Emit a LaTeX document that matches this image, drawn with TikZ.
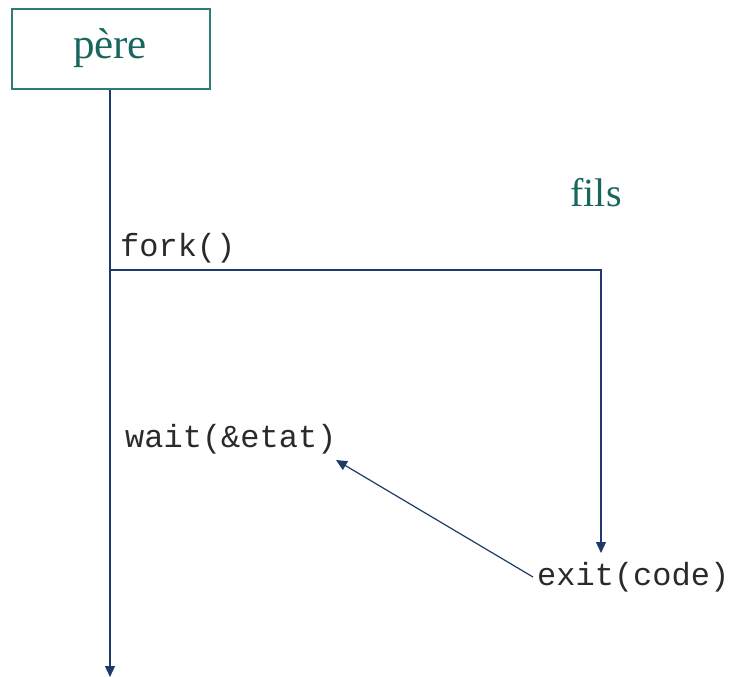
\documentclass[tikz,border=0pt]{standalone}
\usepackage{fontspec}
\setmainfont{Liberation Serif}
\newfontfamily\codefont{Liberation Mono}
\usetikzlibrary{arrows.meta}
\definecolor{navy}{HTML}{1F3A68}
\definecolor{tealtxt}{HTML}{17675F}
\definecolor{tealbox}{HTML}{2E7C76}
\definecolor{codegray}{HTML}{2A2A2A}
\tikzset{
  flow/.style={draw=navy, line width=1.2pt},
  tip/.style={-{Triangle[length=11pt,width=10pt]}},
  proc/.style={text=tealtxt},
  call/.style={font=\codefont\fontsize{32}{34}\selectfont, text=codegray, inner sep=0pt, anchor=base west},
}
\begin{document}
\begin{tikzpicture}[x=1pt, y=-1pt]
  \useasboundingbox (0,0) rectangle (729,677);
  % parent process box
  \node[draw=tealbox, line width=1.3pt, minimum width=198pt, minimum height=80pt, inner sep=0pt] (pere) at (111,49) {};
  \node[proc, font=\fontsize{43}{46}\selectfont, anchor=base] (pereLbl) at (110,59) {père};
  % child process label
  \node[proc, font=\fontsize{40}{44}\selectfont, anchor=base] (fils) at (596,206) {fils};
  % timeline points
  \coordinate (forkpt) at (110,270);
  \coordinate (corner) at (601,270);
  \coordinate (childEnd) at (601,553);
  \coordinate (parentEnd) at (110,677);
  % system call labels
  \node[call] (fork) at (120,256) {fork()};
  \node[call] (wait) at (125,447) {wait(\&etat)};
  \node[call] (exit) at (537,585) {exit(code)};
  \coordinate (exitTail) at (533,577);
  \coordinate (waitHead) at (336,460);
  % parent timeline
  \draw[flow, tip] (pere.south -| forkpt) -- (parentEnd);
  % child created by fork
  \draw[flow, tip] (forkpt) -- (corner) -- (childEnd);
  % exit status returned to wait
  \draw[flow, tip] (exitTail) -- (waitHead);
\end{tikzpicture}
\end{document}
